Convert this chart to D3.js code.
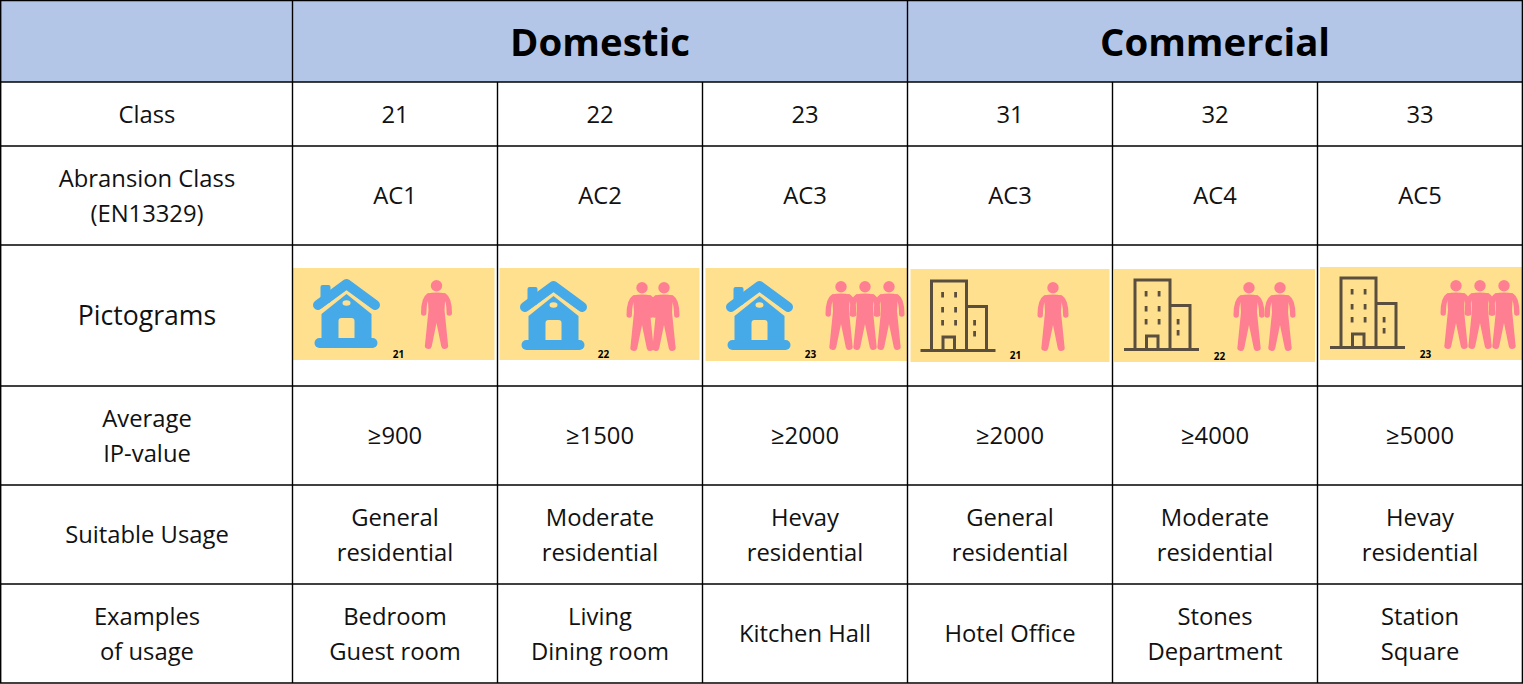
<!DOCTYPE html>
<meta charset="utf-8">
<script src="https://d3js.org/d3.v7.min.js"></script>
<style>
  body { margin: 0; background: #fff; }
  text { font-family: "Open Sans", "Noto Sans", sans-serif; fill: #111; text-anchor: middle; }
</style>
<div id="my_dataviz"></div>
<script>

// table contents
var groups = ["Domestic", "Commercial"];
var classes = ["21", "22", "23", "31", "32", "33"];
var abrasion = ["AC1", "AC2", "AC3", "AC3", "AC4", "AC5"];
var ipValue = ["≥900", "≥1500", "≥2000", "≥2000", "≥4000", "≥5000"];
var usage = [
  ["General", "residential"], ["Moderate", "residential"], ["Hevay", "residential"],
  ["General", "residential"], ["Moderate", "residential"], ["Hevay", "residential"]
];
var examples = [
  ["Bedroom", "Guest room"], ["Living", "Dining room"], ["Kitchen Hall"],
  ["Hotel Office"], ["Stones", "Department"], ["Station", "Square"]
];
var rowNames = ["head", "class", "abrasion", "picto", "ip", "usage", "examples"];
var rowLabels = [[""], ["Class"], ["Abransion Class", "(EN13329)"], ["Pictograms"],
  ["Average", "IP-value"], ["Suitable Usage"], ["Examples", "of usage"]];
var pictoType = ["house", "house", "house", "building", "building", "building"];
var pictoPeople = [1, 2, 3, 1, 2, 3];
var pictoLabel = ["21", "22", "23", "21", "22", "23"];

var width = 1523, height = 684;
var rowEdges = [0.5, 82, 146, 245, 386, 485, 584, 683];

var svg = d3.select("#my_dataviz").append("svg")
  .attr("width", width).attr("height", height)
  .style("display", "block");

var x = d3.scaleBand().domain(classes).range([292.5, 1522.5]);
var top_ = d3.scaleOrdinal().domain(rowNames).range(rowEdges);
var mid = function(name) {
  var i = rowNames.indexOf(name);
  return (rowEdges[i] + rowEdges[i + 1]) / 2;
};

// header band
svg.append("rect").attr("x", 0).attr("y", 0)
  .attr("width", width).attr("height", rowEdges[1]).attr("fill", "#b4c6e7");

// draws one or two lines centred on a point
function cellText(g, lines, cx, cy, size) {
  lines.forEach(function(t, i) {
    g.append("text")
      .attr("x", cx)
      .attr("y", cy + (i - (lines.length - 1) / 2) * 35)
      .attr("dy", "0.37em")
      .style("font-size", size + "px")
      .text(t);
  });
}

var body = svg.append("g");

groups.forEach(function(d, i) {
  var cx = x(classes[i * 3]) + x.bandwidth() * 1.5;
  body.append("text").attr("x", cx).attr("y", mid("head") + 1).attr("dy", "0.36em")
    .style("font-size", "38.4px").style("font-weight", 700).style("fill", "#000")
    .text(d);
});

rowLabels.forEach(function(lines, i) {
  cellText(body, lines, 147, mid(rowNames[i]), rowNames[i] == "picto" ? 26.6 : 23.8);
});

var columns = [["class", classes], ["abrasion", abrasion], ["ip", ipValue], ["usage", usage], ["examples", examples]];
columns.forEach(function(c) {
  c[1].forEach(function(d, i) {
    cellText(body, [].concat(d), x(classes[i]) + x.bandwidth() / 2, mid(c[0]), 23.8);
  });
});

// pictogram placement, offset from the left of each column
var bannerBox = [[0.5, 268, 201.5, 92], [2, 268, 200, 92], [3, 268, 202, 93], [3, 269, 199, 93], [1.5, 269, 201, 93], [2.5, 267, 202, 93]];
var iconAt = [[20, 278], [22, 280], [23, 280], [13, 280], [11.5, 279], [12.5, 277]];
var peopleAt = [[144, 280], [144.5, 282], [138.5, 281], [145.5, 282], [136.5, 282], [138.5, 280]];
var peopleStep = [0, 22, 24, 0, 31, 24];
var labelAt = [[106, 354], [106, 354], [108, 354], [108, 355], [107, 356], [108, 354]];

function drawHouse(g, bg) {
  var blue = "#47aae8";
  g.append("rect").attr("x", 8).attr("y", 7).attr("width", 10).attr("height", 18).attr("rx", 2).attr("fill", blue);
  g.append("path").attr("d", "M5.5,27L34,6L62.5,27")
    .attr("fill", "none").attr("stroke", blue).attr("stroke-width", 10)
    .attr("stroke-linecap", "round").attr("stroke-linejoin", "round");
  g.append("path").attr("d", "M9,36L34,16L59,36V63H9Z").attr("fill", blue);
  g.append("path").attr("d", "M7,33L34,14L61,33")
    .attr("fill", "none").attr("stroke", bg).attr("stroke-width", 1.5);
  g.append("rect").attr("x", 2).attr("y", 60).attr("width", 63).attr("height", 10).attr("rx", 5).attr("fill", blue);
  g.append("path").attr("d", "M26,60V43Q26,40 29,40H39Q42,40 42,43V60Z").attr("fill", bg);
  g.append("ellipse").attr("cx", 34).attr("cy", 25).attr("rx", 4).attr("ry", 2.7).attr("fill", bg);
}

function drawBuilding(g) {
  var ink = "#5a4e3e";
  g.append("path").attr("d", "M0,70.5H75M11,70.5V1H46V70.5M46,26.5H66V70.5M22.5,70.5V57H34V70.5")
    .attr("fill", "none").attr("stroke", ink).attr("stroke-width", 3);
  var towerX = [20.7, 33.7], towerY = [12, 27, 40];
  towerX.forEach(function(wx) {
    towerY.forEach(function(wy) {
      g.append("rect").attr("x", wx).attr("y", wy).attr("width", 2.8).attr("height", 5.5).attr("fill", ink);
    });
  });
  [40, 51].forEach(function(wy) {
    g.append("rect").attr("x", 52.7).attr("y", wy).attr("width", 2.8).attr("height", 5.5).attr("fill", ink);
  });
}

function drawPerson(g) {
  var pink = "#ff7f92";
  g.append("circle").attr("cx", 0).attr("cy", 5.7).attr("r", 5.7).attr("fill", pink);
  g.append("path")
    .attr("d", "M-9,13.5Q0,11.5 9,13.5L8,30L11.5,64.5A3.4,3.4 0 0 1 4.8,66.5L0,43L-4.8,66.5A3.4,3.4 0 0 1 -11.5,64.5L-8,30Z")
    .attr("fill", pink);
  g.append("path").attr("d", "M-8,16Q-12.8,19 -12.8,33M8,16Q12.8,19 12.8,33")
    .attr("fill", "none").attr("stroke", pink).attr("stroke-width", 5.4).attr("stroke-linecap", "round");
}

var bannerColor = "#fee08f";
classes.forEach(function(c, i) {
  var left = x(c);
  var g = svg.append("g");
  var b = bannerBox[i];
  g.append("rect").attr("x", left + b[0]).attr("y", b[1])
    .attr("width", b[2]).attr("height", b[3]).attr("fill", bannerColor);

  var icon = g.append("g").attr("transform", "translate(" + (left + iconAt[i][0]) + "," + iconAt[i][1] + ")");
  if (pictoType[i] == "house") drawHouse(icon, bannerColor);
  else drawBuilding(icon);

  d3.range(pictoPeople[i]).forEach(function(k) {
    drawPerson(g.append("g").attr("transform",
      "translate(" + (left + peopleAt[i][0] + k * peopleStep[i]) + "," + peopleAt[i][1] + ")"));
  });

  g.append("text").attr("x", left + labelAt[i][0]).attr("y", labelAt[i][1]).attr("dy", "0.36em")
    .style("font-size", "10px").style("font-weight", 700).style("fill", "#000")
    .text(pictoLabel[i]);
});

// grid lines go on last so banners never cover them
var grid = svg.append("g").attr("stroke", "#000").attr("stroke-width", 1.4);
rowEdges.forEach(function(y) {
  grid.append("line").attr("x1", 0).attr("x2", width).attr("y1", y).attr("y2", y);
});
[0.7, 292.5, 907.5, 1522.4].forEach(function(v) {
  grid.append("line").attr("x1", v).attr("x2", v).attr("y1", 0).attr("y2", rowEdges[7]);
});
classes.forEach(function(c, i) {
  if (i % 3 == 0) return;
  grid.append("line").attr("x1", x(c)).attr("x2", x(c)).attr("y1", top_("class")).attr("y2", rowEdges[7]);
});

</script>
